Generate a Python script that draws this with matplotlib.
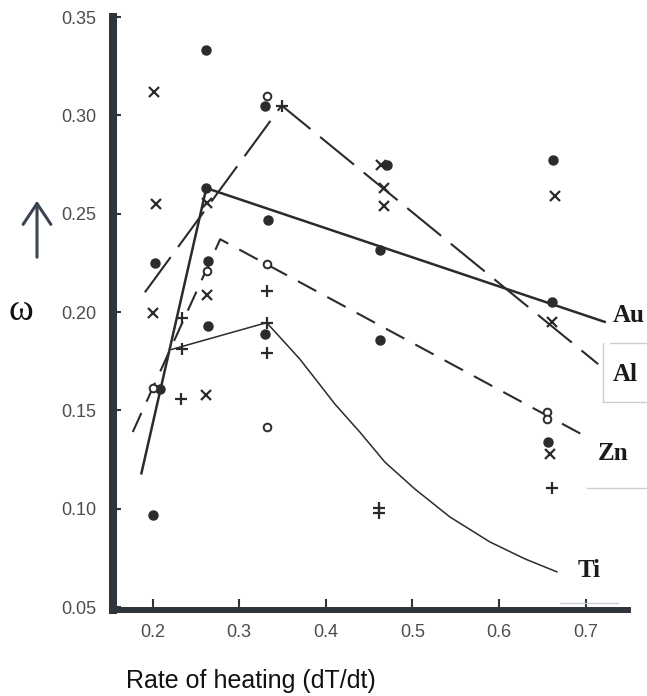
import matplotlib
matplotlib.use("Agg")
import matplotlib.pyplot as plt
from matplotlib.lines import Line2D
from matplotlib.patches import FancyArrowPatch

dot_x = [0.262, 0.330, 0.262, 0.333, 0.203, 0.264, 0.264, 0.330, 0.2085, 0.200,
         0.471, 0.4625, 0.6626, 0.661, 0.463, 0.657]
dot_y = [0.333, 0.305, 0.263, 0.2467, 0.225, 0.226, 0.193, 0.1887, 0.161, 0.0968,
         0.2746, 0.2315, 0.2772, 0.205, 0.186, 0.1337]

ring_x = [0.3316, 0.3316, 0.263, 0.200, 0.3316, 0.656, 0.656]
ring_y = [0.3096, 0.2242, 0.221, 0.1616, 0.1416, 0.1492, 0.1455]

cross_x = [0.202, 0.2035, 0.263, 0.263, 0.2007, 0.262, 0.4636, 0.467, 0.467,
           0.6645, 0.661, 0.659]
cross_y = [0.312, 0.2548, 0.2555, 0.2085, 0.1993, 0.158, 0.2746, 0.263, 0.2538,
           0.2592, 0.195, 0.1278]

plus_x = [0.349, 0.2335, 0.3316, 0.3316, 0.2335, 0.2323, 0.3316, 0.4617, 0.4617, 0.661]
plus_y = [0.305, 0.197, 0.2107, 0.1946, 0.181, 0.156, 0.179, 0.1003, 0.0977, 0.1104]

au_x = [0.187, 0.262, 0.722]
au_y = [0.118, 0.263, 0.195]
al_x = [0.191, 0.349, 0.7146]
al_y = [0.210, 0.305, 0.1735]
zn_x = [0.177, 0.278, 0.699]
zn_y = [0.139, 0.237, 0.137]
ti_x = [0.222, 0.3316, 0.3493, 0.3701, 0.3909, 0.4105, 0.4394, 0.4682, 0.5029,
        0.5433, 0.5895, 0.6299, 0.6668]
ti_y = [0.181, 0.1946, 0.1861, 0.1760, 0.1643, 0.1532, 0.1389, 0.1237, 0.1100,
        0.0958, 0.0831, 0.0745, 0.0679]

curve_names = ["Au", "Al", "Zn", "Ti"]
name_x = [0.7315, 0.7316, 0.7142, 0.691]
name_y = [0.1983, 0.1684, 0.1283, 0.0684]

x_ticks = [0.2, 0.3, 0.4, 0.5, 0.6, 0.7]
y_ticks = [0.05, 0.10, 0.15, 0.20, 0.25, 0.30, 0.35]

W, H = 647, 696
INK = "#2b2b2b"

fig = plt.figure(figsize=(W / 100, H / 100), dpi=100)
ax = fig.add_axes([113 / W, (H - 610) / H, (628 - 113) / W, (610 - 17) / H])

ax.plot(au_x, au_y, color=INK, lw=1.8)
ax.plot(al_x, al_y, color=INK, lw=1.5, dashes=(21, 6))
ax.plot(zn_x, zn_y, color=INK, lw=1.5, dashes=(10, 6))
ax.plot(ti_x, ti_y, color=INK, lw=1.1)

ax.plot(dot_x, dot_y, "o", ms=6.5, color=INK, ls="none")
ax.plot(ring_x, ring_y, "o", ms=5.5, mfc="white", mec=INK, mew=1.4, ls="none")
ax.plot(cross_x, cross_y, "x", ms=6.5, mec=INK, mew=1.6, ls="none")
ax.plot(plus_x, plus_y, "+", ms=9, mec=INK, mew=1.6, ls="none")

for name, tx, ty in zip(curve_names, name_x, name_y):
    ax.text(tx, ty, name, family="Liberation Serif", fontsize=18, weight="bold",
            color="#1a1a1a", ha="left", va="center", clip_on=False)

ax.set_xlim(0.1542, 0.749)
ax.set_ylim(0.0485, 0.35)
ax.set_xticks(x_ticks)
ax.set_xticklabels([f"{v:.1f}" for v in x_ticks])
ax.set_yticks(y_ticks)
ax.set_yticklabels([f"{v:.2f}" for v in y_ticks])

for side in ["top", "right"]:
    ax.spines[side].set_visible(False)
ax.spines["left"].set_linewidth(5.8)
ax.spines["bottom"].set_linewidth(4.3)
ax.spines["left"].set_color("#30343b")
ax.spines["bottom"].set_color("#30343b")
ax.spines["left"].set_capstyle("projecting")
ax.spines["bottom"].set_capstyle("projecting")

ax.tick_params(axis="y", direction="in", length=6, width=1.5, color="#30343b",
               pad=12, labelsize=13, labelcolor="#4d4d4d")
ax.tick_params(axis="x", direction="in", length=8, width=1.5, color="#30343b",
               pad=10, labelsize=13, labelcolor="#4d4d4d")
for lab in ax.get_xticklabels() + ax.get_yticklabels():
    lab.set_family("Liberation Sans")

fig.text(126 / W, 1 - 681 / H, "Rate of heating (dT/dt)", family="Liberation Sans",
         fontsize=18, color="#111111", ha="left", va="center")
fig.text(21 / W, 1 - 311 / H, "ω", family="Liberation Serif", fontsize=27,
         color="#111111", ha="center", va="center")
fig.add_artist(FancyArrowPatch(
    (37 / W, 1 - 260 / H), (37 / W, 1 - 198 / H), transform=fig.transFigure,
    arrowstyle="->,head_length=0.6,head_width=0.4", mutation_scale=25,
    lw=2.2, color="#3b4452"))

# faint ruled lines left over from the scanned table
rules = [((610, 647), (343, 343)), ((603, 647), (402, 402)), ((603, 603), (343, 402)),
         ((587, 647), (488, 488)), ((560, 618), (603, 603))]
for xs, ys in rules:
    fig.add_artist(Line2D([x / W for x in xs], [1 - y / H for y in ys],
                          transform=fig.transFigure, color="#c9cdd6", lw=1))

fig.savefig("out.png", dpi=100)
